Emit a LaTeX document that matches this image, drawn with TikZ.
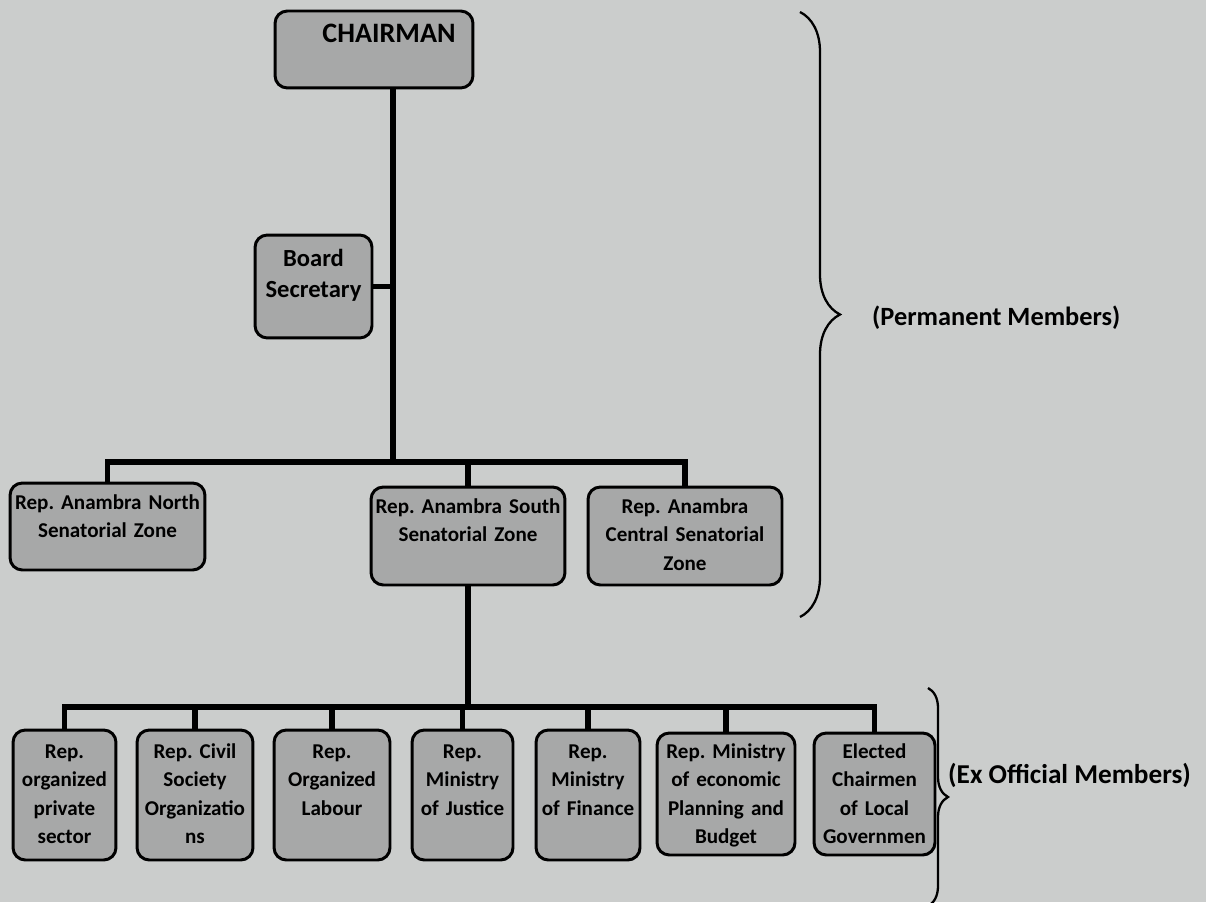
\documentclass[tikz,border=0pt]{standalone}
\usepackage{fontspec}
\setmainfont{Carlito}
\usepackage{xcolor}
\usepackage{tikz}
\usetikzlibrary{positioning}
\usetikzlibrary{decorations.pathreplacing}

\definecolor{paper}{HTML}{CBCDCC}
\definecolor{boxgray}{HTML}{A7A8A8}

\tikzset{
  orgbox/.style={draw=black, line width=1.7pt, fill=boxgray, rounded corners=7pt,
    align=center, inner xsep=0pt, inner ysep=0pt,
    font=\bfseries\fontsize{12}{16.3}\selectfont},
  link/.style={line width=3pt},
  bracket/.style={decorate, line width=1.3pt},
  tag/.style={anchor=west, font=\bfseries\fontsize{15}{18}\selectfont},
}

\begin{document}
\frenchspacing
\hyphenpenalty=10000
\begin{tikzpicture}[x=0.02cm, y=-0.02cm]
\fill[paper] (0,0) rectangle (1206,902);
\useasboundingbox (0,0) rectangle (1206,902);
\clip (0,0) rectangle (1206,902);

\node[orgbox, text width=3.96cm, text height=0.64cm, text depth=0.9cm,
      font=\bfseries\fontsize{16}{19}\selectfont] (chair) at (374,49.5) {\hspace*{0.6cm}CHAIRMAN};
\node[orgbox, text width=2.34cm, text height=0.62cm, text depth=1.44cm,
      font=\bfseries\fontsize{14}{18}\selectfont] (sec) at (313.5,286.5) {Board\\Secretary};

\node[orgbox, text width=3.9cm, text height=0.52cm, text depth=1.22cm] (north) at (107.5,526.5)
  {Rep. Anambra North\\Senatorial Zone};
\node[orgbox, text width=3.88cm, text height=0.52cm, text depth=1.44cm] (south) at (468,536)
  {Rep. Anambra South\\Senatorial Zone};
\node[orgbox, text width=3.88cm, text height=0.52cm, text depth=1.44cm] (central) at (685,536)
  {Rep. Anambra\\Central Senatorial\\Zone};

\node[orgbox, text width=2.06cm, text height=0.56cm, text depth=2.04cm] (opsa) at (64.5,795)
  {Rep.\\organized\\private\\sector};
\node[orgbox, text width=2.32cm, text height=0.56cm, text depth=2.04cm] (civil) at (195,795)
  {Rep. Civil\\Society\\Organizatio\\ns};
\node[orgbox, text width=2.32cm, text height=0.56cm, text depth=2.04cm] (labour) at (332,795)
  {Rep.\\Organized\\Labour};
\node[orgbox, text width=2.02cm, text height=0.56cm, text depth=2.04cm] (justice) at (462.5,795)
  {Rep.\\Ministry\\of Justice};
\node[orgbox, text width=2.08cm, text height=0.56cm, text depth=2.04cm] (finance) at (588,795)
  {Rep.\\Ministry\\of Finance};
\node[orgbox, text width=2.76cm, text height=0.5cm, text depth=1.94cm] (budget) at (726,794)
  {Rep. Ministry\\of economic\\Planning and\\Budget};
\node[orgbox, text width=2.42cm, text height=0.5cm, text depth=1.94cm] (lga) at (874.5,794)
  {Elected\\Chairmen\\of Local\\Governmen};

\coordinate (bus1) at (393,462);
\coordinate (bus2) at (468,707);

\draw[link] (chair.south -| bus1) -- (bus1);
\draw[link] (sec.east) -- (sec.east -| bus1);
\draw[link] (north.north) |- (bus1) -| (central.north);
\draw[link] (south.north) -- (south.north |- bus1);

\draw[link] (south.south) -- (bus2);
\draw[link] (opsa.north) |- (bus2) -| (lga.north);
\foreach \n in {civil,labour,justice,finance,budget}
  \draw[link] (\n.north) -- (\n.north |- bus2);

\draw[bracket, decoration={brace, amplitude=0.8cm}] (800,12) -- (800,617);
\draw[bracket, decoration={brace, amplitude=0.4cm}] (928,688) -- (928,906);

\node[tag] (perm) at (866,318) {(Permanent Members)};
\node[tag, font=\bfseries\fontsize{15.5}{18}\selectfont] (exoff) at (942,775) {(Ex Official Members)};
\end{tikzpicture}
\end{document}
